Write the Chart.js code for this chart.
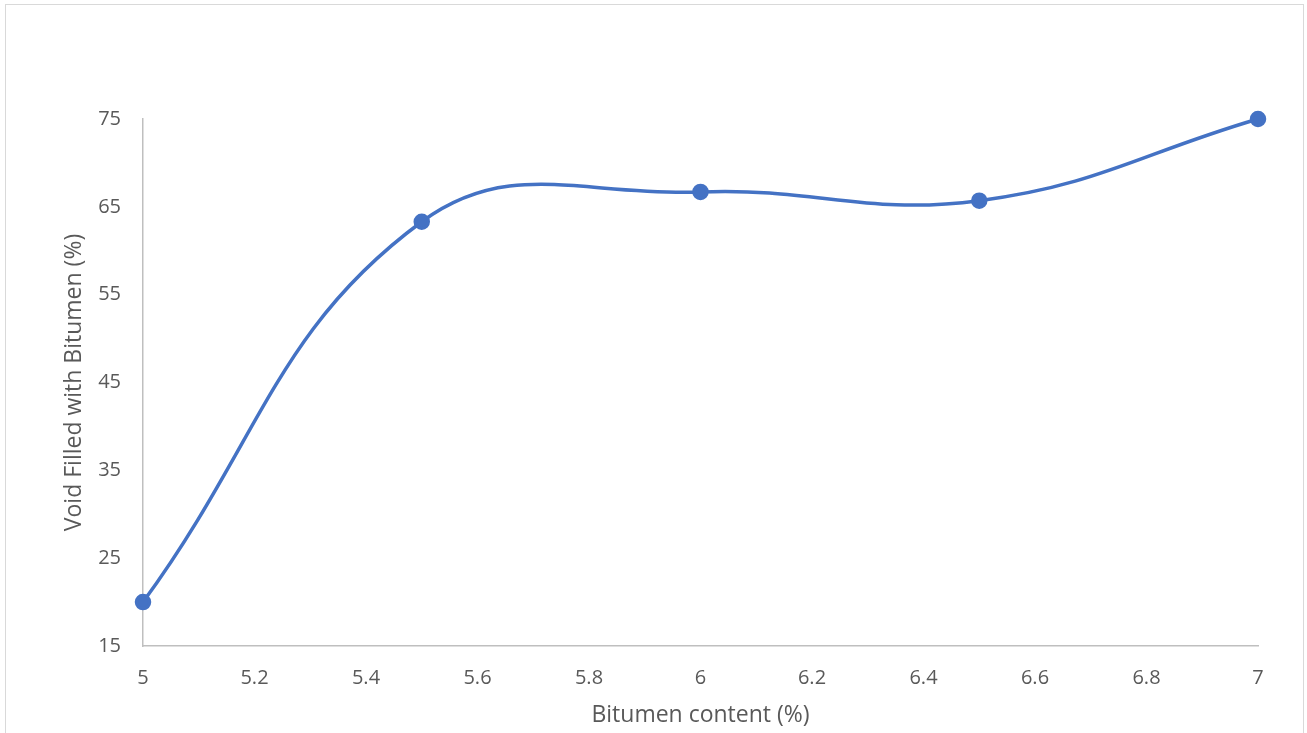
<!DOCTYPE html>
<html>
<head>
<meta charset="utf-8">
<script src="https://cdn.jsdelivr.net/npm/chart.js@4"></script>
<style>
  html, body { margin: 0; padding: 0; background: #fff; overflow: hidden; }
  #frame { position: absolute; left: 5px; top: 4px; width: 1299px; height: 760px; border: 1.5px solid #d9d9d9; box-sizing: border-box; }
  #grafik { position: absolute; left: 0; top: 0; }
</style>
</head>
<body>
<div id="frame"></div>
<canvas id="grafik" width="1307" height="733"></canvas>
<script>
// Veriler
const bitumen = [5, 5.5, 6, 6.5, 7];
const vfb = [20, 63.3, 66.7, 65.7, 75];
const xTicks = [5, 5.2, 5.4, 5.6, 5.8, 6, 6.2, 6.4, 6.6, 6.8, 7];
const yTicks = [15, 25, 35, 45, 55, 65, 75];

const yaziRengi = '#595959';
const eksenRengi = '#bfbfbf';
const tickFont = { family: "'Open Sans', sans-serif", size: 20 };
const baslikFont = { family: "'Open Sans', sans-serif", size: 23 };

const ctx = document.getElementById('grafik').getContext('2d');
new Chart(ctx, {
    type: 'line',
    data: {
        datasets: [{
            data: bitumen.map((x, i) => ({ x: x, y: vfb[i] })),
            borderColor: '#4472C4',
            backgroundColor: '#4472C4',
            borderWidth: 3.5,
            pointRadius: 6.5,
            pointHoverRadius: 6.5,
            tension: 0.42,
            clip: false
        }]
    },
    options: {
        responsive: false,
        animation: false,
        layout: { padding: { left: 57, right: 49, top: 119, bottom: 0 } },
        plugins: { legend: { display: false }, tooltip: { enabled: false } },
        scales: {
            x: {
                type: 'linear',
                min: 5,
                max: 7,
                afterBuildTicks: s => { s.ticks = xTicks.map(v => ({ value: v })); },
                afterFit: s => { s.height = 87; },
                grid: { display: false, drawTicks: false },
                border: { display: true, color: eksenRengi, width: 1.5 },
                ticks: {
                    padding: 20,
                    color: yaziRengi,
                    font: tickFont,
                    maxRotation: 0,
                    autoSkip: false,
                    callback: v => String(Number(v.toFixed(1)))
                },
                title: { display: true, text: 'Bitumen content (%)', color: yaziRengi, font: baslikFont }
            },
            y: {
                min: 15,
                max: 75,
                afterBuildTicks: s => { s.ticks = yTicks.map(v => ({ value: v })); },
                afterFit: s => { s.width = 86; },
                grid: { display: false, drawTicks: false },
                border: { display: true, color: eksenRengi, width: 1.5 },
                ticks: { padding: 22, color: yaziRengi, font: tickFont, autoSkip: false },
                title: { display: true, text: 'Void Filled with Bitumen (%)', color: yaziRengi, font: baslikFont }
            }
        }
    }
});
</script>
</body>
</html>
